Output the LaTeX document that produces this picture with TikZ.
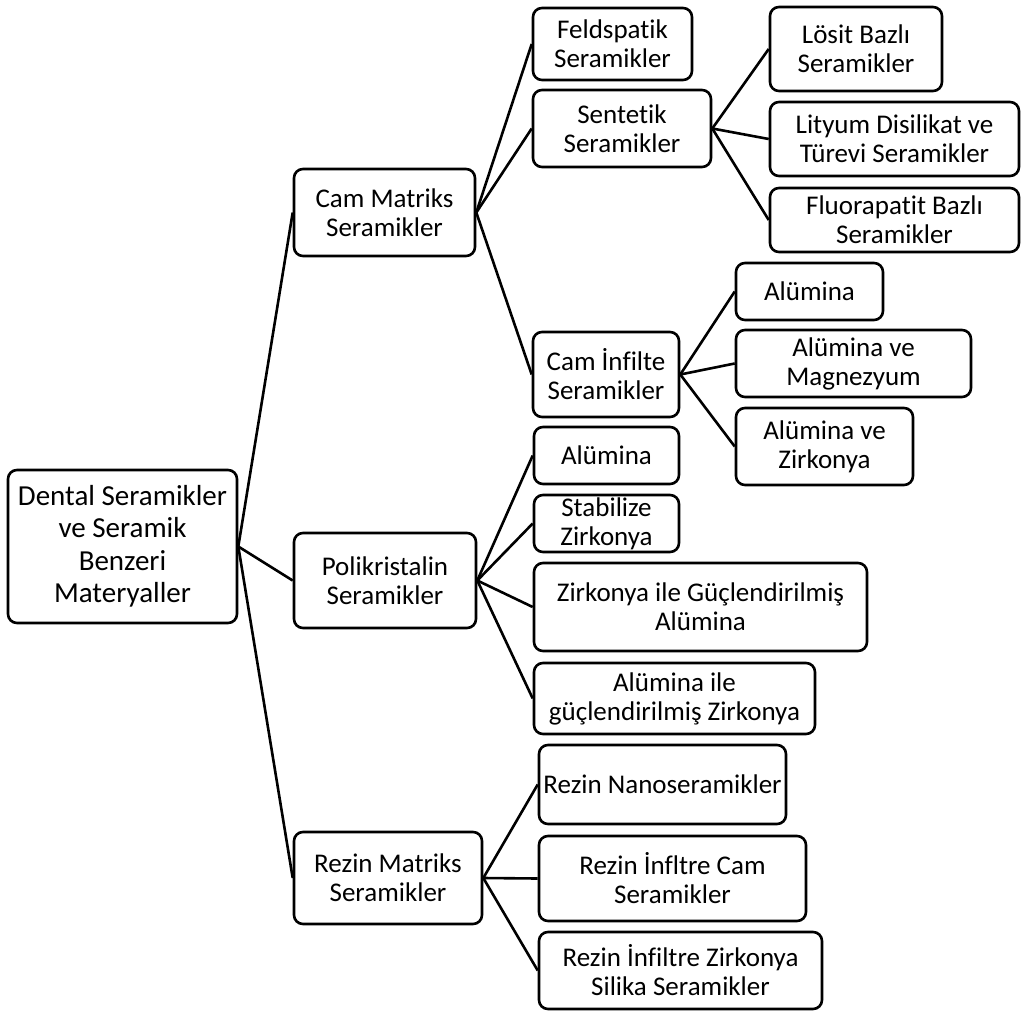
\documentclass[tikz,border=0pt]{standalone}
\usepackage{fontspec}
\setmainfont[Ligatures=NoCommon]{Carlito}
\begin{document}
\begin{tikzpicture}[x=1pt,y=-1pt,
  box/.style={draw, line width=2.6pt, rounded corners=9pt, inner sep=0pt, align=center,
              font=\fontsize{27}{29}\selectfont},
  rootbox/.style={box, font=\fontsize{29}{32.5}\selectfont},
  link/.style={line width=2.6pt}]
\useasboundingbox (0,0) rectangle (1022,1011);
% level 0
\node[rootbox, minimum width=229pt, minimum height=153pt] (root) at (122.5,546.5)
  {Dental Seramikler\\ve Seramik\\Benzeri\\Materyaller};
% level 1
\node[box, minimum width=181pt, minimum height=87pt] (cam) at (384.5,212.5) {Cam Matriks\\Seramikler};
\node[box, minimum width=182pt, minimum height=95pt] (poli) at (385,580.5) {Polikristalin\\Seramikler};
\node[box, minimum width=188pt, minimum height=92pt] (rez) at (388,878) {Rezin Matriks\\Seramikler};
% level 2 (cam)
\node[box, minimum width=159pt, minimum height=72pt] (feld) at (612.5,44) {Feldspatik\\Seramikler};
\node[box, minimum width=178pt, minimum height=77pt] (sent) at (622,128.5) {Sentetik\\Seramikler};
\node[box, minimum width=146pt, minimum height=85pt] (caminf) at (606,374.5) {Cam İnfilte\\Seramikler};
% level 3 (sentetik)
\node[box, minimum width=172pt, minimum height=84pt] (losit) at (856,49) {Lösit Bazlı\\Seramikler};
\node[box, minimum width=249pt, minimum height=74pt] (lity) at (894.5,139) {Lityum Disilikat ve\\Türevi Seramikler};
\node[box, minimum width=249pt, minimum height=64pt] (fluor) at (894.5,220) {Fluorapatit Bazlı\\Seramikler};
% level 3 (cam infilte)
\node[box, minimum width=147pt, minimum height=57pt] (aluA) at (809.5,291.5) {Alümina};
\node[box, minimum width=235pt, minimum height=67pt] (aluMag) at (853.5,363.5) {Alümina ve\\Magnezyum};
\node[box, minimum width=177pt, minimum height=77pt] (aluZir) at (824.5,446.5) {Alümina ve\\Zirkonya};
% level 2 (polikristalin)
\node[box, minimum width=145pt, minimum height=57pt] (aluB) at (606.5,455.5) {Alümina};
\node[box, minimum width=145pt, minimum height=57pt] (stab) at (606.5,523.5) {Stabilize\\Zirkonya};
\node[box, minimum width=333pt, minimum height=88pt] (zga) at (700.5,607) {Zirkonya ile Güçlendirilmiş\\Alümina};
\node[box, minimum width=281pt, minimum height=71pt] (agz) at (674.5,698.5) {Alümina ile\\güçlendirilmiş Zirkonya};
% level 2 (rezin)
\node[box, minimum width=247pt, minimum height=79pt] (nano) at (662.5,784.5) {Rezin Nanoseramikler};
\node[box, minimum width=267pt, minimum height=85pt] (infcam) at (672.5,878.5) {Rezin İnfltre Cam\\Seramikler};
\node[box, minimum width=283pt, minimum height=77pt] (infzir) at (680.5,970.5) {Rezin İnfiltre Zirkonya\\Silika Seramikler};
% connectors
\foreach \c in {cam,poli,rez} \draw[link] (root.east) -- (\c.west);
\foreach \c in {feld,sent,caminf} \draw[link] (cam.east) -- (\c.west);
\foreach \c in {losit,lity,fluor} \draw[link] (sent.east) -- (\c.west);
\foreach \c in {aluA,aluMag,aluZir} \draw[link] (caminf.east) -- (\c.west);
\foreach \c in {aluB,stab,zga,agz} \draw[link] (poli.east) -- (\c.west);
\foreach \c in {nano,infcam,infzir} \draw[link] (rez.east) -- (\c.west);
\end{tikzpicture}
\end{document}
